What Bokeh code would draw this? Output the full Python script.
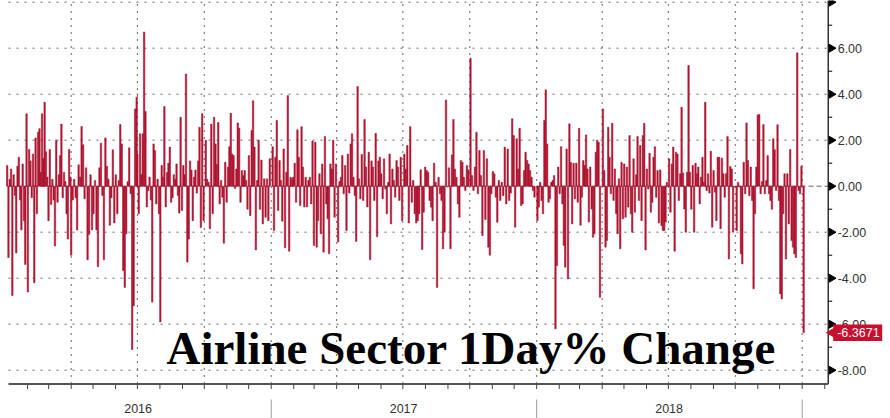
import math
import pandas as pd
from bokeh.plotting import figure
from bokeh.models import Range1d, ColumnDataSource
from bokeh.core.properties import value
from bokeh.embed import file_html
from bokeh.resources import INLINE

# ---- data: airline sector daily % change, read per quarter ----
q1_2016 = [0.9, -3.1, 0.3, 0.75, -4.75, 0.5, -0.4, -2.9, 0.87, 1.26, -0.6, -1.9, 0.97, -1.5, -3.4, 3.15,
           -4.6, 1.6, 1.1, -0.5, 1.4, -4.2, 2.1, -1.2, 2.35, 2.5, 0.6, 3.15, 1.2, 3.65, 1.5, 0.4, -1.5,
           1.6, -0.8, 0.3, -0.6, -2.6, 2.0, -0.7, 0.5, 1.33, 2.7, -0.5, 0.6, 0.2, -1.2, -2.3, 1.6, 0.4]
q2_2016 = [-3.0, -0.6, 0.3, -0.5, -1.9, 0.93, 0.4, 2.6, 1.8, -0.55, 0.8, -3.2, -2.1, 0.5, -1.9, -1.2,
           0.25, -1.9, -3.5, 0.8, 1.87, -0.4, -3.2, 2.1, 0.87, 0.3, -1.7, -0.5, 1.58, -1.6, 0.5, -1.2,
           0.25, 2.68, 1.84, -3.67, -4.4, -2.07, 0.2, 1.67, -0.33, -7.1, -5.2, 3.36, 3.87]
q3_2016 = [1.4, -1.2, 2.28, 0.5, 2.28, 6.7, 3.25, -0.9, -0.2, 0.4, -0.6, -5.04, 1.84, 1.55, -0.77, 0.3,
           -1.2, -5.9, 0.9, 0.4, 3.46, -0.9, 0.6, 1.0, 1.7, -0.7, -0.5, 0.5, 0.3, 0.97, -0.4, -1.17, 3.0,
           -1.06, 0.9, 0.5, 4.88, -3.3, -2.3, 1.1, 0.7, -1.5, 0.4, 0.7, -0.3, 1.1, 2.56, -1.8, 3.15, -1.5]
q4_2016 = [2.0, 0.3, 0.17, -1.85, 2.7, -1.2, 3.0, 1.84, 0.94, 2.77, -0.77, 0.25, -0.48, -2.48, 1.04,
           -0.7, 0.83, 1.72, 3.17, 1.4, 1.33, -0.1, 0.75, 2.75, 2.52, -0.7, 0.68, 0.46, 0.68, 0.25, -1.0,
           1.33, -1.28, 2.42, 3.72, 1.7, -2.77, 0.25, 2.0, -1.0, 1.14, -1.64, 0.32, -1.35, 0.32, -1.5, 1.19]
q1_2017 = [1.72, -1.93, 1.26, 2.86, -1.06, 1.12, 0.25, -1.52, 1.62, -2.68, 0.61, 3.94, -2.83, 0.39, 0.32,
           0.39, 1.0, -0.7, 2.45, 1.26, -0.84, 2.59, 0.83, -0.9, 0.39, -0.9, 0.25, 0.39, -0.77, 1.96,
           -2.58, 1.91, -2.65, -1.5, 0.54, -2.07, 0.97, -2.87, 2.16, -0.77, -1.42, -2.94, 0.97, 0.75, 2.0,
           -1.35, 0.97]
q2_2017 = [-2.43, 0.2, 0.39, 1.33, -0.33, 0.9, -1.93, 1.4, -0.3, 1.84, 2.28, 0.39, -0.4, -2.4, 4.33,
           0.32, -0.55, 1.38, -0.62, 2.9, 0.83, -0.9, 1.48, -3.2, 1.1, 0.83, -0.62, 2.3, -2.2, 1.1, 1.26,
           0.54, -0.55, 1.19, -0.12, -1.2, 0.17, 1.4, -1.64, 0.75, 0.25, -0.48, 1.12, 0.83, -0.62, 1.26, -1.5]
q3_2017 = [1.4, 0.75, 1.77, -1.6, 2.59, -0.7, 0.25, -1.2, -1.6, -1.5, -1.2, 0.71, -2.75, -1.13, 0.83,
           0.68, 0.61, -0.62, -0.91, -1.5, 1.0, 0.17, -4.4, 0.39, -0.33, -0.62, -2.72, -2.0, 3.75, -0.04,
           0.8, -2.72, 1.36, 2.9, 0.75, 0.39, -0.77, -1.35, 1.12, 1.04, 0.39, -0.19, 0.9, 0.71]
q4_2017 = [5.56, 0.46, -0.19, 0.83, 2.35, -0.33, 1.55, 0.46, -2.15, 1.55, -1.45, 1.19, -2.65, -3.0, -0.33,
           0.64, 0.54, -0.48, -1.57, 0.25, -0.62, 0.17, -0.41, 1.7, -0.77, 1.62, -0.62, -0.3, 2.93, 2.2,
           -1.78, 2.06, 0.75, 2.52, -0.84, -0.77, 0.68, 1.48, 1.12, 0.97, 0.68, 0.39, -0.19, -0.48]
q1_2018 = [-1.5, -0.91, 0.17, -0.62, -1.2, 2.86, 4.19, 1.84, -0.7, -0.55, 0.17, 0.25, 0.46, -6.2, -3.45,
           0.83, -0.33, 1.72, -0.77, -2.58, -3.52, 1.62, -4.03, 2.71, 1.03, -1.64, 1.0, -0.55, 1.0, -0.7,
           2.52, -1.7, -0.48, 1.12, 0.9, 2.23, 0.75, -1.56, 0.83, -0.99, -2.22, -2.07, 1.48, 2.0, 1.91, -4.83]
q2_2018 = [3.36, 0.68, -2.65, -2.36, 2.56, 1.26, -0.33, 2.74, -0.62, 0.75, -1.2, -2.07, 0.32, -2.72, 1.04,
           -1.42, 0.97, -1.35, 0.83, -0.91, 2.2, -1.2, -2.0, 1.19, -1.13, 0.5, 2.16, -0.62, 1.77, -1.5, 2.2,
           2.74, -2.77, 0.75, -0.12, 1.43, -1.13, -0.7, 1.26, 1.72, -0.48, 0.68, -1.6, 0.71, -1.71, -1.93,
           -1.93, -1.56, 0.17]
q3_2018 = [1.19, -1.13, 0.97, 1.7, -2.83, 1.48, 1.4, -0.62, 0.54, 3.43, 0.57, -0.99, -2.0, 0.61, 5.25,
           0.61, -1.0, 0.9, -2.0, 1.0, 0.54, 0.83, -0.77, 0.39, 1.26, 0.17, 3.65, -0.19, 0.54, -0.3, 1.52,
           -1.78, 0.68, -0.26, -1.5, 1.26, 1.26, -1.85, 1.22, 0.54, -0.48, 0.54, 2.16, -3.16, 0.86, 0.75, -2.0]
q4_2018 = [-0.04, -1.93, 0.17, -0.04, -2.94, -3.38, 1.04, -0.33, 2.75, 1.12, -0.41, 0.83, -0.62, -4.46,
           -1.2, 0.83, 3.1, 3.12, -0.33, 0.2, 2.68, -0.33, 0.25, 1.33, -0.33, -0.62, -1.0, 2.06, 1.58,
           -0.19, 2.67, -0.62, -4.68, -4.9, -1.2, 0.54, -3.16, 0.54, -1.64, 1.6, -2.36, -2.65, -2.94, -3.1,
           5.8, -0.19, -0.33, 0.87]
jan_2019 = [-6.3671]

periods = [
    ("2016-01-04", "2016-03-31", q1_2016), ("2016-04-01", "2016-06-30", q2_2016),
    ("2016-07-01", "2016-09-30", q3_2016), ("2016-10-03", "2016-12-30", q4_2016),
    ("2017-01-03", "2017-03-31", q1_2017), ("2017-04-03", "2017-06-30", q2_2017),
    ("2017-07-03", "2017-09-29", q3_2017), ("2017-10-02", "2017-12-29", q4_2017),
    ("2018-01-02", "2018-03-29", q1_2018), ("2018-04-02", "2018-06-29", q2_2018),
    ("2018-07-02", "2018-09-28", q3_2018), ("2018-10-01", "2018-12-31", q4_2018),
    ("2019-01-03", "2019-01-03", jan_2019),
]
years = ["2016", "2017", "2018"]
title_text = "Airline Sector 1Day% Change"
y_ticks = [-8, -6, -4, -2, 0, 2, 4, 6, 8]
y_minor = [-7, -5, -3, -1, 1, 3, 5, 7]

DAY = 86400000.0


def ms(s):
    return pd.Timestamp(s).value / 1e6


# ---- screen layout (pixel geometry of the chart) ----
W, H = 890, 418
PX_DAY = 0.72736          # pixels per day
X0_PX = 4.5               # pixel of 2016-01-01
PX_UNIT = 23.0            # pixels per 1 %
ZERO_PX = 185.7           # pixel row of 0 %
FRAME_L, AXIS_R, AXIS_B = 8, 827.7, 383.5


def px2x(px):
    return ms("2016-01-01") + (px - X0_PX) / PX_DAY * DAY


def py2y(py):
    return (ZERO_PX - py) / PX_UNIT


dates, vals = [], []
for start, end, v in periods:
    d = [pd.Timestamp(start)] if len(v) == 1 else list(pd.date_range(start, end, periods=len(v)))
    dates.extend(ms(x) for x in d)
    vals.extend(v)
last_val = vals[-1]

p = figure(width=W, height=H, x_range=Range1d(px2x(0), px2x(W)), y_range=Range1d(py2y(H), py2y(0)),
           x_axis_location=None, y_axis_location=None, toolbar_location=None,
           output_backend="svg", min_border=0)
p.outline_line_color = None
p.grid.visible = False
p.background_fill_color = "white"
p.border_fill_color = "white"

xl, xr = px2x(FRAME_L), px2x(AXIS_R)
yb, yt = py2y(AXIS_B), py2y(0)

# grid lines
quarters = [ms(d) for d in pd.date_range("2016-04-01", "2019-01-01", freq="QS")]
p.segment(x0=quarters, x1=quarters, y0=[yb] * len(quarters), y1=[yt] * len(quarters),
          line_color="#666666", line_dash="2 5", line_width=1)
hg = [t for t in y_ticks if t != 0]
p.segment(x0=[xl] * len(hg), x1=[xr] * len(hg), y0=hg, y1=hg,
          line_color="#666666", line_dash="2 6", line_width=1)
p.segment(x0=[xl], x1=[xr], y0=[0], y1=[0], line_color="#666666", line_dash="5 3", line_width=1)

# bars
src = ColumnDataSource(dict(x=dates, top=vals))
p.vbar(x="x", top="top", bottom=0, width=2.0 * DAY, source=src,
       fill_color="#C3112F", line_color="#951630", line_width=0.5)

# axes lines
p.segment(x0=[xr], x1=[xr], y0=[yb], y1=[yt], line_color="black", line_width=1.2)
p.segment(x0=[xl], x1=[xr], y0=[yb], y1=[yb], line_color="#555555", line_width=2)

# right axis ticks, markers, labels
tick_len = 4 / PX_DAY * DAY
p.segment(x0=[xr] * len(y_minor), x1=[xr + tick_len] * len(y_minor), y0=y_minor, y1=y_minor,
          line_color="black", line_width=1)
p.scatter(x=[xr + 3.2 / PX_DAY * DAY] * len(y_ticks), y=y_ticks, marker="triangle", size=8,
          angle=-math.pi / 2, fill_color="black", line_color="black")
lab_ticks = [t for t in y_ticks if t < 8]
p.text(x=[xr] * len(lab_ticks), y=lab_ticks, text=[f"{t:.2f}" for t in lab_ticks], x_offset=9.5,
       text_font=value("Liberation Sans"), text_font_size="12.5px", text_color="#333333",
       text_align="left", text_baseline="middle")

# bottom axis: monthly ticks, year separators, year labels
months = [ms(d) for d in pd.date_range("2016-02-01", "2019-02-01", freq="MS")]
p.segment(x0=months, x1=months, y0=[yb] * len(months), y1=[py2y(AXIS_B + 5)] * len(months),
          line_color="#444444", line_width=1)
bounds = [ms(f"{int(y) + 1}-01-01") for y in years]
p.segment(x0=bounds, x1=bounds, y0=[py2y(399)] * 3, y1=[py2y(418)] * 3,
          line_color="#999999", line_width=1)
p.text(x=[ms(f"{y}-07-02") for y in years], y=[py2y(408)] * 3, text=years,
       text_font=value("Liberation Sans"), text_font_size="12.5px", text_color="#333333",
       text_align="center", text_baseline="middle")

# last value tag
tag_c = xr + 29.5 / PX_DAY * DAY
p.rect(x=[tag_c], y=[last_val], width=49, height=16.5, width_units="screen", height_units="screen",
       fill_color="#C8102E", line_color=None)
p.scatter(x=[xr + 3.5 / PX_DAY * DAY], y=[last_val], marker="triangle", size=9, angle=math.pi / 2,
          fill_color="#C8102E", line_color="#C8102E")
p.text(x=[xr], y=[last_val], text=[f"{last_val:.4f}"], x_offset=9,
       text_font=value("Liberation Sans"), text_font_size="12.5px", text_color="white",
       text_align="left", text_baseline="middle")

# overlay title
p.text(x=[px2x(166)], y=[py2y(347)], text=[title_text], text_font=value("Liberation Serif"),
       text_font_style="bold", text_font_size="47px", text_color="black",
       text_align="left", text_baseline="alphabetic")

open("out.html", "w").write(file_html(p, INLINE))
